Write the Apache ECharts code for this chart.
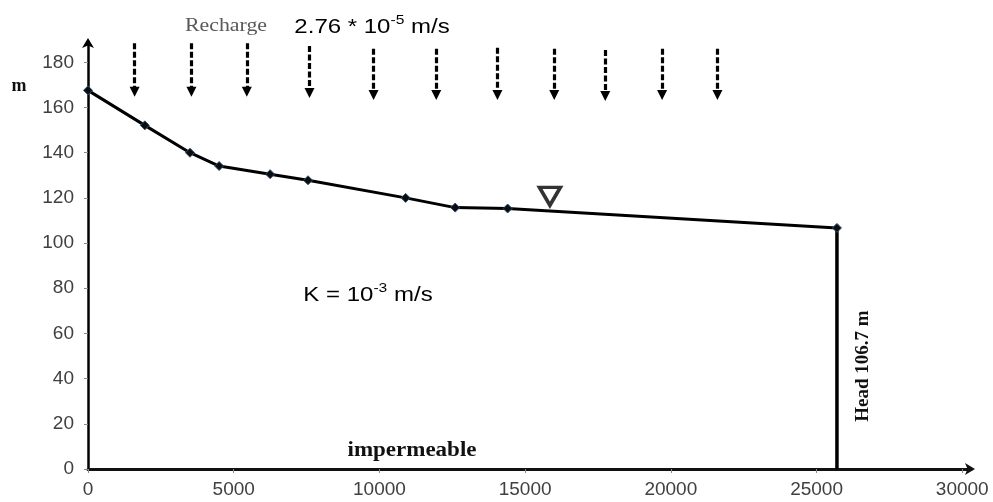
<!DOCTYPE html>
<html>
<head>
<meta charset="utf-8">
<script src="https://cdn.jsdelivr.net/npm/echarts@6/dist/echarts.min.js"></script>
<style>html,body{margin:0;padding:0;background:#fff;}#c{width:993px;height:502px;}</style>
</head>
<body>
<div id="c"></div>
<script>
// Water table profile (distance in m, head in m)
var distances = [0, 1950, 3500, 4500, 6250, 7550, 10900, 12600, 14400, 25700];
var heads = [167.6, 152.1, 140, 134.1, 130.5, 127.8, 120, 115.7, 115.3, 106.7];
// Fixed-head boundary at the right end
var boundaryX = 25700;
var boundaryHead = 106.7;
// Water-table symbol position
var wtSymbol = [15850, 120.7];
// Recharge arrows
var arrowX = [1600, 3550, 5450, 7600, 9800, 11950, 14050, 16000, 17750, 19700, 21600];
var arrowTop = [188.5, 188.5, 188.5, 187.2, 186, 186, 186.4, 186, 185.5, 186, 186];
var arrowEnd = [167, 167, 167, 166.4, 165.5, 165.5, 165.5, 165.5, 165.1, 165.5, 165.5];
// Axis settings
var xTickStep = 5000;
var yTickStep = 20;

var chart = echarts.init(document.getElementById('c'), null, {renderer: 'canvas'});
var profile = distances.map(function (d, i) { return [d, heads[i]]; });
var arrows = arrowX.map(function (x, i) { return {coords: [[x, arrowTop[i]], [x, arrowEnd[i]]]}; });

var sans = 'Liberation Sans, Arial, sans-serif';
var serif = 'Liberation Serif, Times New Roman, serif';

chart.setOption({
  backgroundColor: '#fff',
  animation: false,
  grid: {left: 88, right: 22, top: 42, bottom: 33},
  xAxis: {
    type: 'value', min: 0, max: 30300, interval: xTickStep,
    axisLine: {lineStyle: {color: '#111', width: 3}, symbol: ['none', 'arrow'], symbolSize: [9, 10], symbolOffset: [0, 4]},
    axisTick: {show: true, length: 4, lineStyle: {color: '#888', width: 1}},
    axisLabel: {fontFamily: sans, fontSize: 19, color: '#404040', margin: 11, showMaxLabel: false,
      formatter: function (v) { return String(v); }},
    splitLine: {show: false}
  },
  yAxis: {
    type: 'value', min: 0, max: 189, interval: yTickStep,
    axisLine: {show: true, lineStyle: {color: '#000', width: 2.5}, symbol: ['none', 'arrow'], symbolSize: [9, 10], symbolOffset: [0, 4]},
    axisTick: {show: true, length: 4, lineStyle: {color: '#888', width: 1}},
    axisLabel: {fontFamily: sans, fontSize: 19, color: '#404040', margin: 14, showMaxLabel: false},
    splitLine: {show: false}
  },
  series: [
    {
      type: 'line', data: profile, z: 4,
      symbol: 'diamond', symbolSize: 9, showSymbol: true,
      itemStyle: {color: '#0d0d0d', borderColor: '#2e4d73', borderWidth: 1},
      lineStyle: {color: '#000', width: 3}
    },
    {
      type: 'line', data: [[boundaryX, boundaryHead], [boundaryX, 0]], z: 3,
      symbol: 'none', lineStyle: {color: '#000', width: 3.5}
    },
    {
      type: 'scatter', data: [wtSymbol], z: 5,
      symbol: 'triangle', symbolRotate: 180, symbolSize: [21, 18],
      itemStyle: {color: '#fff', borderColor: '#000', borderWidth: 3.5}
    },
    {
      type: 'lines', coordinateSystem: 'cartesian2d', data: arrows, z: 3,
      symbol: ['none', 'triangle'], symbolSize: 10,
      lineStyle: {color: '#000', width: 3.2, type: [6, 2.5], opacity: 1}
    }
  ],
  graphic: [
    {type: 'text', x: 19, y: 86, style: {text: 'm', font: 'bold 18px ' + serif, fill: '#111', align: 'center', verticalAlign: 'middle'}},
    {type: 'text', x: 226, y: 26, scaleX: 1.15, style: {text: 'Recharge', font: '19px ' + serif, fill: '#595959', align: 'center', verticalAlign: 'middle'}},
    {type: 'text', x: 372, y: 27, scaleX: 1.2, style: {
      text: '{a|2.76 * 10}{s|-5}{a| m/s}', align: 'center', verticalAlign: 'middle',
      rich: {a: {fontFamily: sans, fontSize: 20, color: '#1a1a1a', lineHeight: 26}, s: {fontFamily: sans, fontSize: 13, color: '#1a1a1a', verticalAlign: 'top', lineHeight: 26}}
    }},
    {type: 'text', x: 368, y: 295, scaleX: 1.2, style: {
      text: '{a|K = 10}{s|-3}{a| m/s}', align: 'center', verticalAlign: 'middle',
      rich: {a: {fontFamily: sans, fontSize: 20, color: '#1a1a1a', lineHeight: 26}, s: {fontFamily: sans, fontSize: 13, color: '#1a1a1a', verticalAlign: 'top', lineHeight: 26}}
    }},
    {type: 'text', x: 412, y: 451, scaleX: 1.15, style: {text: 'impermeable', font: 'bold 20px ' + serif, fill: '#111', align: 'center', verticalAlign: 'middle'}},
    {type: 'text', x: 863, y: 366, rotation: Math.PI / 2, style: {text: 'Head 106.7 m', font: 'bold 19px ' + serif, fill: '#111', align: 'center', verticalAlign: 'middle'}}
  ]
});
</script>
</body>
</html>
